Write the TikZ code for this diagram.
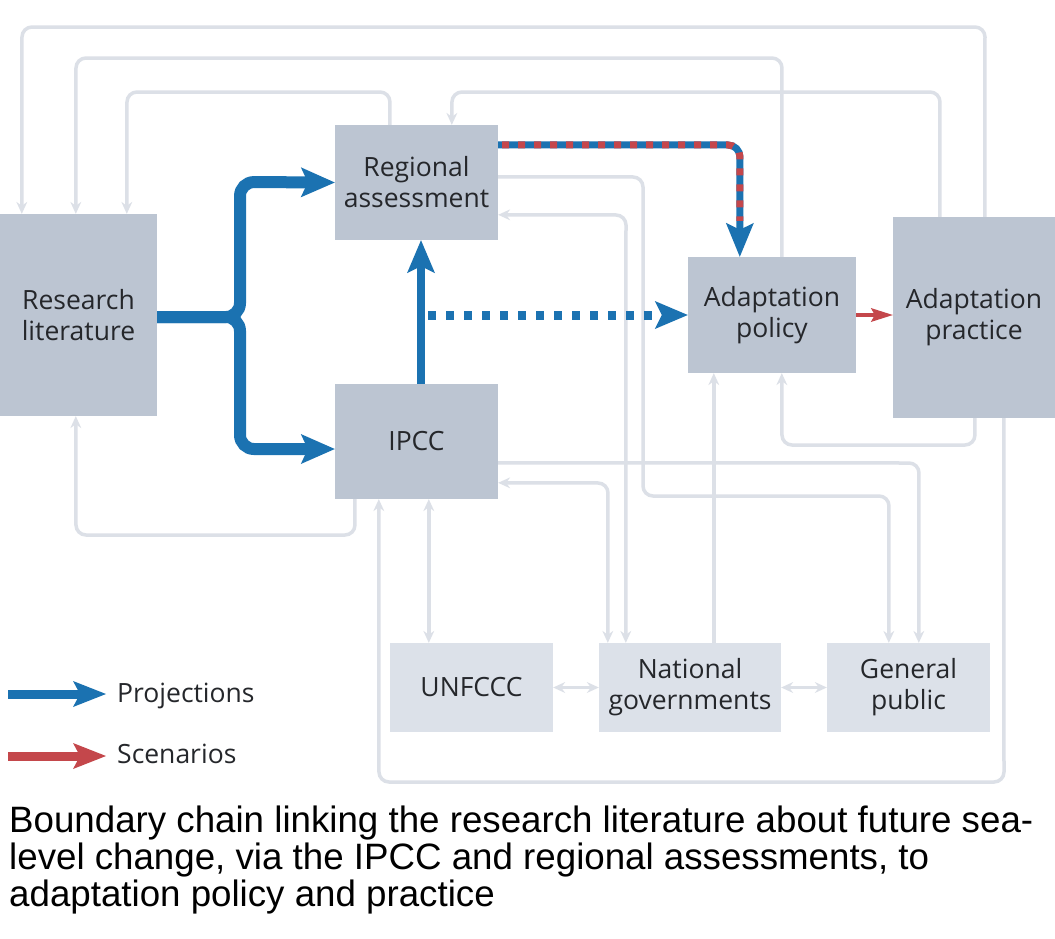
\documentclass[tikz,border=0pt]{standalone}
\usepackage{fontspec}
\setmainfont{Open Sans}
\newfontfamily\capfont{Liberation Sans}
\usetikzlibrary{arrows.meta}
\definecolor{upfill}{HTML}{BCC5D2}
\definecolor{lowfill}{HTML}{DCE1E9}
\definecolor{gcol}{HTML}{DCE0E7}
\definecolor{bl}{HTML}{1B72B1}
\definecolor{rd}{HTML}{C4474B}
\definecolor{txt}{HTML}{25272B}
\begin{document}
\begin{tikzpicture}[x=1pt,y=1pt,
  boxfont/.style={font=\fontsize{26.5}{31}\selectfont},
  upbox/.style={rectangle, fill=upfill, inner sep=0pt, align=center, text=txt, boxfont},
  lowbox/.style={rectangle, fill=lowfill, inner sep=0pt, align=center, text=txt, boxfont},
  gline/.style={draw=gcol, line width=3.5pt, rounded corners=10pt},
  gar/.style={-{Stealth[length=12pt,width=11pt,inset=4pt,line width=0pt]}},
  gbi/.style={{Stealth[length=12pt,width=11pt,inset=4pt,line width=0pt]}-{Stealth[length=12pt,width=11pt,inset=4pt,line width=0pt]}},
  bigtip/.style={-{Stealth[length=34pt,width=30pt,inset=7pt,line width=0pt]}},
  proj/.style={draw=bl, line width=12pt, rounded corners=14pt, bigtip},
  captext/.style={font=\capfont\fontsize{36.7}{40}\selectfont, text=black, inner sep=0pt, anchor=base west},
  legtext/.style={boxfont, text=txt, inner sep=0pt, anchor=base west}
]
\useasboundingbox (0,0) rectangle (1055,-938);
\fill[white] (0,0) rectangle (1055,-938);

% boxes
\node[upbox, minimum width=157pt, minimum height=202pt] (RL) at (78.5,-315) {Research\\literature};
\node[upbox, minimum width=163pt, minimum height=115pt] (RA) at (416.5,-182.5) {Regional\\assessment};
\node[upbox, minimum width=163pt, minimum height=115pt] (IPCC) at (416.5,-441.5) {IPCC};
\node[upbox, minimum width=168pt, minimum height=116pt] (AP) at (772,-315) {Adaptation\\policy};
\node[upbox, minimum width=162pt, minimum height=201pt] (PR) at (974,-317.5) {Adaptation\\practice};
\node[lowbox, minimum width=163pt, minimum height=89pt] (UN) at (471.5,-687.5) {UNFCCC};
\node[lowbox, minimum width=182pt, minimum height=89pt] (NG) at (690,-687.5) {National\\governments};
\node[lowbox, minimum width=163pt, minimum height=89pt] (GP) at (908.5,-687.5) {General\\public};

% grey connectors
\draw[gline, gar] ([xshift=92pt]PR.north west) -- (985,-27) -- (22,-27) -- ([xshift=22pt]RL.north west);
\draw[gline, gar] ([xshift=94pt]AP.north west) -- (782,-58) -- (76,-58) -- ([xshift=76pt]RL.north west);
\draw[gline, gar] ([xshift=55pt]RA.north west) -- (390,-92) -- (127,-92) -- ([xshift=127pt]RL.north west);
\draw[gline, gar] ([xshift=47pt]PR.north west) -- (940,-92) -- (452,-92) -- ([xshift=117pt]RA.north west);
\draw[gline, gar] ([yshift=-52pt]RA.north east) -- (643,-177) -- (643,-496) -- (889,-496) -- ([xshift=62pt]GP.north west);
\draw[gline, gbi] ([yshift=-90pt]RA.north east) -- (626,-215) -- ([xshift=27pt]NG.north west);
\draw[gline, gbi] ([yshift=-99pt]IPCC.north east) -- (608,-483) -- ([xshift=9pt]NG.north west);
\draw[gline, gar] ([xshift=115pt]NG.north west) -- ([xshift=26pt]AP.south west);
\draw[gline, gar] ([xshift=82pt]PR.south west) -- (975,-445) -- (782,-445) -- ([xshift=94pt]AP.south west);
\draw[gline, gar] ([yshift=-79pt]IPCC.north east) -- (919,-463) -- ([xshift=92pt]GP.north west);
\draw[gline, gar] ([xshift=111pt]PR.south west) -- (1004,-782) -- (379,-782) -- ([xshift=44pt]IPCC.south west);
\draw[gline, gbi] ([xshift=94pt]IPCC.south west) -- ([xshift=39pt]UN.north west);
\draw[gline, gar] ([xshift=20pt]IPCC.south west) -- (355,-535) -- (76,-535) -- ([xshift=76pt]RL.south west);
\draw[gline, gbi] (UN.east) -- (NG.west);
\draw[gline, gbi] (NG.east) -- (GP.west);

% blue projections
\draw[proj] ([yshift=-2pt]RL.east) -- (240,-317) -- (240,-182) -- (RA.west);
\draw[proj] ([yshift=-2pt]RL.east) -- (240,-317) -- (240,-449) -- ([yshift=-7.5pt]IPCC.west);
\draw[draw=bl, line width=8pt, -{Stealth[length=33pt,width=28pt,inset=7pt,line width=0pt]}] ([xshift=4.5pt]IPCC.north) -- ([xshift=4.5pt]RA.south);
\coordinate (dstart) at (428,-315);
\draw[draw=bl, line width=9pt, dash pattern=on 8pt off 10pt, -{Stealth[length=33pt,width=28pt,inset=7pt,line width=0pt]}] (dstart) -- (AP.west);

% blue/red dashed
\draw[draw=bl, line width=7pt, rounded corners=12pt, -{Stealth[length=34pt,width=28pt,inset=7pt,line width=0pt]}] ([yshift=-20pt]RA.north east) -- (740,-145) -- ([xshift=52pt]AP.north west);
\draw[draw=rd, line width=7pt, rounded corners=12pt, dash pattern=on 7pt off 9pt, dash phase=-4pt, shorten >=36pt] ([yshift=-20pt]RA.north east) -- (740,-145) -- ([xshift=52pt]AP.north west);

% red scenario arrow
\draw[draw=rd, line width=4pt, -{Stealth[length=22pt,width=14pt,inset=4pt,line width=0pt]}] (AP.east) -- (PR.west |- AP.east);

% legend
\coordinate (lb1) at (8,-694);
\coordinate (lb2) at (106,-694);
\coordinate (lr1) at (8,-756);
\coordinate (lr2) at (106,-756);
\draw[draw=bl, line width=9pt, -{Stealth[length=33pt,width=26pt,inset=7pt,line width=0pt]}] (lb1) -- (lb2);
\draw[draw=rd, line width=9pt, -{Stealth[length=33pt,width=26pt,inset=7pt,line width=0pt]}] (lr1) -- (lr2);
\node[legtext] (lp) at (117,-702) {Projections};
\node[legtext] (ls) at (117,-763) {Scenarios};

% caption
\node[captext] (c1) at (9,-832) {Boundary chain linking the research literature about future sea-};
\node[captext] (c2) at (9,-869) {level change, via the IPCC and regional assessments, to};
\node[captext] (c3) at (9,-906) {adaptation policy and practice};
\end{tikzpicture}
\end{document}
